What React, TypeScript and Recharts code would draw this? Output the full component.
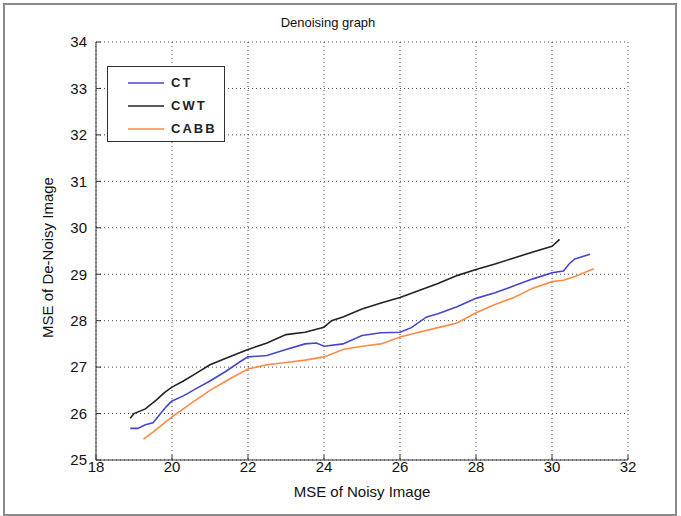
import { CartesianGrid, Line, LineChart, XAxis, YAxis } from "recharts";

// values
const ctX = [18.9, 19.1, 19.3, 19.5, 19.7, 19.85, 20.0, 20.3, 20.6, 21.0, 21.4, 21.8, 22.0, 22.5, 23.0, 23.5, 23.8, 24.0, 24.5, 25.0, 25.5, 26.0, 26.3, 26.7, 27.0, 27.5, 28.0, 28.5, 29.0, 29.5, 30.0, 30.3, 30.45, 30.6, 31.0];
const ctY = [25.68, 25.68, 25.76, 25.8, 26.0, 26.15, 26.27, 26.38, 26.52, 26.7, 26.9, 27.12, 27.22, 27.25, 27.38, 27.5, 27.52, 27.45, 27.5, 27.68, 27.74, 27.75, 27.85, 28.08, 28.15, 28.3, 28.48, 28.6, 28.75, 28.9, 29.03, 29.07, 29.22, 29.33, 29.43];

const cwtX = [18.9, 19.0, 19.3, 19.6, 19.8, 20.0, 20.3, 20.6, 21.0, 21.5, 22.0, 22.5, 23.0, 23.5, 24.0, 24.2, 24.5, 25.0, 25.5, 26.0, 26.5, 27.0, 27.5, 28.0, 28.5, 29.0, 29.5, 30.0, 30.2];
const cwtY = [25.9, 26.0, 26.1, 26.3, 26.45, 26.57, 26.7, 26.85, 27.05, 27.22, 27.38, 27.52, 27.7, 27.75, 27.86, 28.0, 28.08, 28.25, 28.38, 28.5, 28.65, 28.8, 28.97, 29.1, 29.22, 29.35, 29.48, 29.6, 29.75];

const cabbX = [19.25, 19.5, 20.0, 20.5, 21.0, 21.5, 22.0, 22.5, 23.0, 23.5, 24.0, 24.5, 25.0, 25.5, 26.0, 26.5, 27.0, 27.5, 28.0, 28.5, 29.0, 29.5, 30.0, 30.3, 30.6, 31.1];
const cabbY = [25.45, 25.6, 25.93, 26.22, 26.5, 26.74, 26.96, 27.05, 27.1, 27.15, 27.22, 27.38, 27.45, 27.5, 27.65, 27.75, 27.85, 27.95, 28.17, 28.35, 28.5, 28.7, 28.84, 28.87, 28.95, 29.12];

const xTicks = [18, 20, 22, 24, 26, 28, 30, 32];
const yTicks = [25, 26, 27, 28, 29, 30, 31, 32, 33, 34];

const zip = (xs: number[], ys: number[]) => xs.map((x, i) => ({ x, y: ys[i] }));

const series = [
  { name: "CT", color: "#4646cc", data: zip(ctX, ctY) },
  { name: "CWT", color: "#222222", data: zip(cwtX, cwtY) },
  { name: "CABB", color: "#ff8a45", data: zip(cabbX, cabbY) },
];

const font = "'Liberation Sans', Arial, sans-serif";

// legend drawn as an overlay so the chart doesn't reserve room for it
function LegendBox() {
  return (
    <div
      style={{
        position: "absolute",
        left: 107,
        top: 66,
        border: "1.5px solid #333",
        background: "#fff",
        width: 118,
        height: 76,
        boxSizing: "border-box",
        paddingTop: 4,
      }}
    >
      {series.map((s) => (
        <div key={s.name} style={{ display: "flex", alignItems: "center", height: 23 }}>
          <svg width={60} height={4}>
            <line x1={20} x2={56} y1={2} y2={2} stroke={s.color} strokeWidth={1.6} />
          </svg>
          <span style={{ fontFamily: font, fontWeight: "bold", fontSize: 13, letterSpacing: 2, color: "#222", marginLeft: 3 }}>
            {s.name}
          </span>
        </div>
      ))}
    </div>
  );
}

export default function App() {
  return (
    <div style={{ position: "absolute", left: 0, top: 0, width: 681, height: 516, background: "#fff" }}>
      <div style={{ position: "absolute", left: 3, top: 3, width: 674, height: 513, border: "2px solid #8a8a8a", boxSizing: "border-box" }} />
      <div style={{ position: "absolute", left: 228, width: 200, top: 15, textAlign: "center", fontFamily: font, fontSize: 13, color: "#111" }}>
        Denoising graph
      </div>
      <div style={{ position: "absolute", left: 212, width: 300, top: 483, textAlign: "center", fontFamily: font, fontSize: 15, color: "#111" }}>
        MSE of Noisy Image
      </div>
      <div
        style={{
          position: "absolute",
          left: 47 - 120,
          width: 240,
          top: 258 - 9,
          textAlign: "center",
          fontFamily: font,
          fontSize: 15,
          color: "#111",
          transform: "rotate(-90deg)",
        }}
      >
        MSE of De-Noisy Image
      </div>
      <div style={{ position: "absolute", left: 0, top: 0 }}>
        <LineChart width={681} height={516} margin={{ top: 42, right: 53, bottom: 0, left: 0 }}>
          <CartesianGrid stroke="#444" strokeDasharray="1 3" />
          <XAxis
            dataKey="x"
            type="number"
            domain={[18, 32]}
            ticks={xTicks}
            allowDuplicatedCategory={false}
            height={56}
            stroke="#333"
            tickSize={-5}
            tickMargin={6}
            tick={{ fill: "#111", fontSize: 15, fontFamily: font }}
          />
          <YAxis
            type="number"
            domain={[25, 34]}
            ticks={yTicks}
            width={96}
            stroke="#333"
            tickSize={-5}
            tickMargin={14}
            tick={{ fill: "#111", fontSize: 15, fontFamily: font }}
          />
          {series.map((s) => (
            <Line
              key={s.name}
              data={s.data}
              dataKey="y"
              name={s.name}
              type="linear"
              stroke={s.color}
              strokeWidth={1.6}
              dot={false}
              isAnimationActive={false}
            />
          ))}
        </LineChart>
      </div>
      <LegendBox />
    </div>
  );
}
